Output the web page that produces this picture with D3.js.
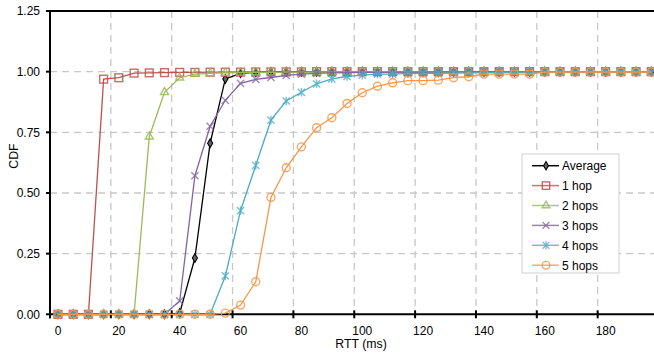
<!DOCTYPE html>
<html><head><meta charset="utf-8">
<script src="https://cdn.jsdelivr.net/npm/d3@7"></script>
<style>body{margin:0;background:#fff}svg{display:block;font-family:"Liberation Sans",Arial,sans-serif}</style>
</head><body><svg id="c" width="654" height="356"></svg>
<script>
const rtt = d3.range(0, 200, 5);
const xTicks = [0,20,40,60,80,100,120,140,160,180];
const yTicks = [0,0.25,0.5,0.75,1.0,1.25];
const seriesNames = ["Average","1 hop","2 hops","3 hops","4 hops","5 hops"];
const avgVals = [0,0,0,0,0,0,0,0,0.005,0.232,0.705,0.970,0.993,0.997,0.999,1,1,1,1,1,1,1,1,1,1,1,1,1,1,1,1,1,1,1,1,1,1,1,1,1];
const hop1Vals = [0,0,0,0.969,0.975,0.994,0.995,0.996,0.997,0.997,0.998,0.998,0.998,0.999,0.999,0.999,0.999,1,1,1,1,1,1,1,1,1,1,1,1,1,1,1,1,1,1,1,1,1,1,1];
const hop2Vals = [0,0,0,0,0,0,0.732,0.915,0.975,0.990,0.993,0.995,0.996,0.997,0.997,0.998,0.998,0.998,0.999,0.999,0.999,1,1,1,1,1,1,1,1,1,1,1,1,1,1,1,1,1,1,1];
const hop3Vals = [0,0,0,0,0,0,0,0,0.055,0.571,0.775,0.882,0.952,0.968,0.976,0.985,0.990,0.993,0.995,0.996,0.997,0.997,0.998,0.998,0.998,0.999,0.999,0.999,1,1,1,1,1,1,1,1,1,1,1,1];
const hop4Vals = [0,0,0,0,0,0,0,0,0,0,0,0.158,0.427,0.614,0.800,0.879,0.915,0.950,0.970,0.980,0.986,0.990,0.990,0.993,0.993,0.993,0.994,0.995,0.996,0.997,0.998,0.998,0.999,0.999,1,1,1,1,1,1];
const hop5Vals = [0,0,0,0,0,0,0,0,0,0,0,0.005,0.038,0.134,0.482,0.604,0.690,0.769,0.810,0.869,0.913,0.940,0.954,0.963,0.963,0.965,0.975,0.979,0.990,0.990,0.990,0.990,0.998,0.998,0.998,0.998,0.998,0.998,0.998,0.998];
const allVals = [avgVals,hop1Vals,hop2Vals,hop3Vals,hop4Vals,hop5Vals];
const colors = ["#000000","#c0504d","#9bbb59","#8064a2","#4bacc6","#f79646"];
const markers = ["diamond","square","triangle","x","asterisk","circle"];

const svg = d3.select("#c");
const x = d3.scaleLinear().domain([0,200]).range([50, 50+608.5]);
const y = d3.scaleLinear().domain([0,1.25]).range([314.3, 11]);
const dataShift = 8; // data & labels sit right of tick marks in the reference
const xd = v => x(v) + dataShift;

// grid
const grid = svg.append("g").attr("stroke","#c8c8c8").attr("stroke-width",1.3).attr("stroke-dasharray","7,5");
xTicks.filter(t=>t>0).forEach(t=>grid.append("line").attr("x1",x(t)).attr("x2",x(t)).attr("y1",y(1.25)).attr("y2",y(0)));
yTicks.filter(t=>t>0&&t<1.25).forEach(t=>grid.append("line").attr("x1",x(0)).attr("x2",654).attr("y1",y(t)).attr("y2",y(t)));

// axes
const ax = svg.append("g").attr("stroke","#000").attr("stroke-width",2);
ax.append("line").attr("x1",x(0)).attr("x2",654).attr("y1",y(0)).attr("y2",y(0));
ax.append("line").attr("x1",x(0)).attr("x2",654).attr("y1",y(1.25)).attr("y2",y(1.25));
ax.append("line").attr("x1",x(0)).attr("x2",x(0)).attr("y1",y(1.25)-1).attr("y2",y(0)+4);
xTicks.forEach(t=>ax.append("line").attr("x1",x(t)).attr("x2",x(t)).attr("y1",y(0)-4).attr("y2",y(0)+4));
yTicks.forEach(t=>ax.append("line").attr("x1",x(0)-4).attr("x2",x(0)).attr("y1",y(t)).attr("y2",y(t)));

const tx = svg.append("g").attr("font-size",12).attr("fill","#000");
xTicks.forEach(t=>tx.append("text").attr("x",xd(t)).attr("y",335).attr("text-anchor","middle").text(t));
yTicks.forEach(t=>tx.append("text").attr("x",40).attr("y",y(t)+4.3).attr("text-anchor","end").text(d3.format(".2f")(t)));
tx.append("text").attr("x",361).attr("y",348).attr("text-anchor","middle").attr("font-size",12.3).text("RTT (ms)");
tx.append("text").attr("transform","translate(17.5,156) rotate(-90)").attr("text-anchor","middle").attr("font-size",12.3).text("CDF");

function drawMarker(g, type, cx, cy, color, scale=1){
  const s = scale;
  if(type==="diamond"){
    g.append("path").attr("d",d3.symbol(d3.symbolDiamond, 22*s*s)()).attr("transform",`translate(${cx},${cy})`)
      .attr("fill","#666").attr("stroke",color).attr("stroke-width",1.1);
  } else if(type==="square"){
    g.append("rect").attr("x",cx-3.9*s).attr("y",cy-3.9*s).attr("width",7.8*s).attr("height",7.8*s)
      .attr("fill","none").attr("stroke",color).attr("stroke-width",1.4).attr("stroke-opacity",0.85);
  } else if(type==="triangle"){
    g.append("path").attr("d",d3.symbol(d3.symbolTriangle, 28*s*s)()).attr("transform",`translate(${cx},${cy})`)
      .attr("fill","none").attr("stroke",color).attr("stroke-width",1.4).attr("stroke-opacity",0.85);
  } else if(type==="x"){
    const r=3.6*s;
    g.append("path").attr("d",`M${cx-r},${cy-r}L${cx+r},${cy+r}M${cx-r},${cy+r}L${cx+r},${cy-r}`)
      .attr("stroke",color).attr("stroke-width",1.4).attr("stroke-opacity",0.75);
  } else if(type==="asterisk"){
    const r=3.6*s;
    g.append("path").attr("d",`M${cx-r},${cy-r}L${cx+r},${cy+r}M${cx-r},${cy+r}L${cx+r},${cy-r}M${cx},${cy-r*1.2}L${cx},${cy+r*1.2}`)
      .attr("stroke",color).attr("stroke-width",1.4).attr("stroke-opacity",0.75);
  } else if(type==="circle"){
    g.append("circle").attr("cx",cx).attr("cy",cy).attr("r",4.0*s)
      .attr("fill","none").attr("stroke",color).attr("stroke-width",1.4).attr("stroke-opacity",0.85);
  }
}

const line = d3.line().x((d,i)=>xd(rtt[i])).y(d=>y(d));
const plot = svg.append("g");
allVals.forEach((vals,k)=>{
  const g = plot.append("g");
  g.append("path").datum(vals).attr("d",line).attr("fill","none").attr("stroke",colors[k]).attr("stroke-width",1.3);
  vals.forEach((v,i)=>drawMarker(g, markers[k], xd(rtt[i]), y(v), colors[k]));
});

// legend
const lg = svg.append("g");
lg.append("rect").attr("x",522).attr("y",154).attr("width",97).attr("height",119).attr("fill","#fff").attr("stroke","#d0d0d0").attr("stroke-width",1);
seriesNames.forEach((n,k)=>{
  const cy = 165.7 + k*19.9;
  lg.append("line").attr("x1",532).attr("x2",559).attr("y1",cy).attr("y2",cy).attr("stroke",colors[k]).attr("stroke-width",1.5).attr("stroke-opacity",k?0.8:1);
  drawMarker(lg, markers[k], 546, cy, colors[k], 0.95);
  lg.append("text").attr("x",562).attr("y",cy+4.3).attr("font-size",12).text(n);
});
</script></body></html>
